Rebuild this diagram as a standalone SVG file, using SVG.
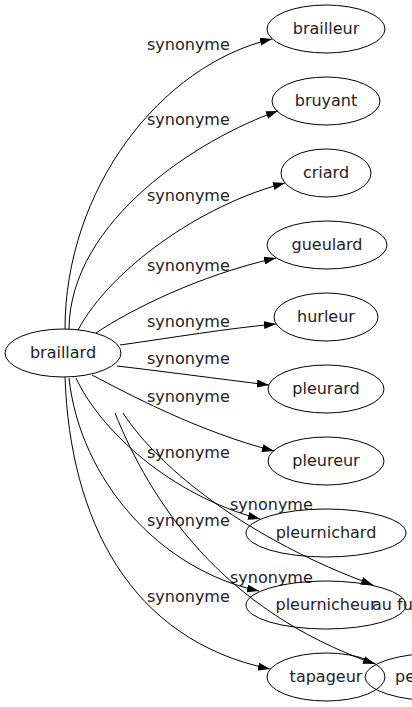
<svg xmlns="http://www.w3.org/2000/svg" width="412" height="707" viewBox="0 0 412 707">
<defs>
<marker id="arr" markerUnits="userSpaceOnUse" markerWidth="12" markerHeight="8" refX="12" refY="4" orient="auto">
<path d="M0,0 L12,4 L0,8 z" fill="#000"/>
</marker>
<style>
text { font-family: "DejaVu Sans", "Noto Sans", sans-serif; font-size: 16px; fill: #222; }
.n ellipse { fill: none; stroke: #000; stroke-width: 1; }
.n text { text-anchor: middle; }
#edges path { fill: none; stroke: #000; stroke-width: 1; marker-end: url(#arr); }
#labels text { text-anchor: start; }
</style>
</defs>
<rect width="412" height="707" fill="#fff"/>
<g id="edges">
<path d="M65,329 C65,190 160,65 272,39"/>
<path d="M69,329 C70,220 200,138 278,111"/>
<path d="M78,330 C110,270 200,205 285,183"/>
<path d="M96,333 C130,310 200,275 276,258"/>
<path d="M120,345 C170,338 230,328 276,324"/>
<path d="M117,366 C160,371 220,379 269,385"/>
<path d="M92,375 C130,395 200,432 274,451"/>
<path d="M76,378 C100,430 170,495 260,519"/>
<path d="M123,413 C160,470 250,540 373,585"/>
<path d="M69,378 C80,480 160,570 259,591"/>
<path d="M115,413 C150,500 220,610 375,664"/>
<path d="M65,377 C70,520 130,640 270,669"/>
</g>
<g id="labels">
<text x="147" y="50">synonyme</text>
<text x="147" y="125">synonyme</text>
<text x="147" y="201">synonyme</text>
<text x="147" y="271">synonyme</text>
<text x="147" y="327">synonyme</text>
<text x="147" y="364">synonyme</text>
<text x="147" y="402">synonyme</text>
<text x="147" y="458">synonyme</text>
<text x="230" y="510">synonyme</text>
<text x="147" y="526">synonyme</text>
<text x="230" y="583">synonyme</text>
<text x="147" y="602">synonyme</text>
</g>
<g id="braillard" class="n"><ellipse cx="63" cy="353" rx="58" ry="24"/><text x="63" y="358">braillard</text></g>
<g id="brailleur" class="n"><ellipse cx="326" cy="29" rx="59" ry="24"/><text x="326" y="34">brailleur</text></g>
<g id="bruyant" class="n"><ellipse cx="326" cy="101" rx="54" ry="24"/><text x="326" y="106">bruyant</text></g>
<g id="criard" class="n"><ellipse cx="326" cy="173" rx="45" ry="24"/><text x="326" y="178">criard</text></g>
<g id="gueulard" class="n"><ellipse cx="327" cy="245" rx="60" ry="24"/><text x="327" y="250">gueulard</text></g>
<g id="hurleur" class="n"><ellipse cx="326" cy="317" rx="52" ry="24"/><text x="326" y="322">hurleur</text></g>
<g id="pleurard" class="n"><ellipse cx="326" cy="389" rx="58" ry="24"/><text x="326" y="394">pleurard</text></g>
<g id="pleureur" class="n"><ellipse cx="326" cy="461" rx="58" ry="24"/><text x="326" y="466">pleureur</text></g>
<g id="pleurnichard" class="n"><ellipse cx="326" cy="533" rx="80" ry="24"/><text x="326" y="538">pleurnichard</text></g>
<g id="pleurnicheur" class="n"><ellipse cx="326" cy="605" rx="80" ry="24"/><text x="326" y="610">pleurnicheur</text></g>
<g id="tapageur" class="n"><ellipse cx="326" cy="677" rx="59" ry="24"/><text x="326" y="682">tapageur</text></g>
<g id="aufu" class="n"><text x="372" y="610" style="text-anchor:start">au fu</text></g>
<g id="pe" class="n"><ellipse cx="440" cy="677" rx="75" ry="24"/><text x="395" y="682" style="text-anchor:start">pe</text></g>
</svg>
